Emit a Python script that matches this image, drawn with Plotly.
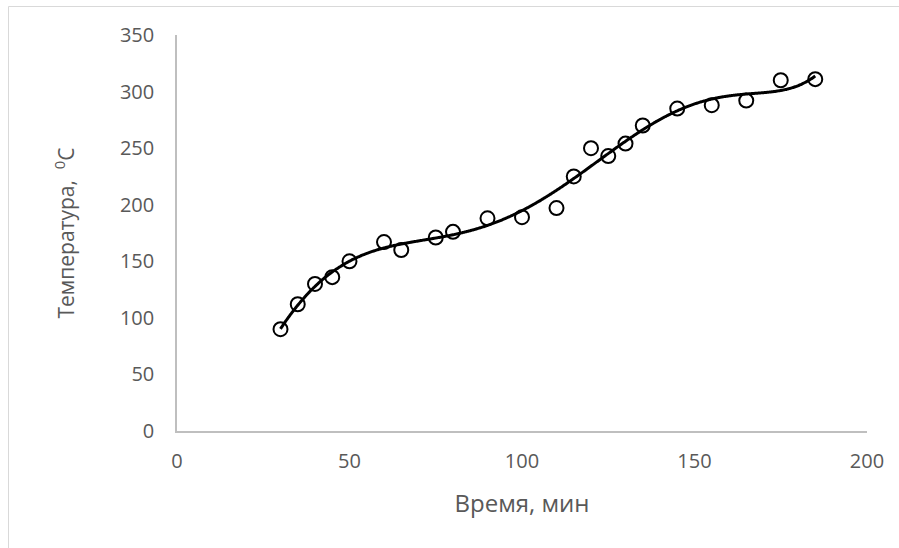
import numpy as np
import plotly.graph_objects as go

time_min = [30, 35, 40, 45, 50, 60, 65, 75, 80, 90, 100, 110, 115, 120, 125, 130, 135, 145, 155, 165, 175, 185]
temp_c = [90, 112, 130, 136, 150, 167, 160, 171, 176, 188, 189, 197, 225, 250, 243, 254, 270, 285, 288, 292, 310, 311]
x_ticks = [0, 50, 100, 150, 200]
y_ticks = [0, 50, 100, 150, 200, 250, 300, 350]
TREND_ORDER = 6

xs = np.array(time_min, dtype=float)
ys = np.array(temp_c, dtype=float)
coef = np.polyfit(xs, ys, TREND_ORDER)
xf = np.linspace(xs.min(), xs.max(), 400)
yf = np.polyval(coef, xf)

fig = go.Figure()
fig.add_trace(go.Scatter(x=xf, y=yf, mode="lines",
                         line=dict(color="black", width=3, shape="spline"),
                         hoverinfo="skip", showlegend=False))
fig.add_trace(go.Scatter(x=time_min, y=temp_c, mode="markers",
                         marker=dict(symbol="circle-open", size=14, color="black",
                                     line=dict(width=2, color="black")),
                         showlegend=False))

W, H = 899, 548
L, R, T, B = 177, 32, 35, 117
pw, ph = W - L - R, H - T - B

def px2paper_x(px):
    return (px - L) / pw

def py2paper_y(py):
    return (H - B - py) / ph

fig.add_shape(type="rect", xref="paper", yref="paper",
              x0=px2paper_x(8.5), x1=px2paper_x(910), y0=py2paper_y(560), y1=py2paper_y(6.5),
              line=dict(color="#d9d9d9", width=1), fillcolor="rgba(0,0,0,0)", layer="below")

font_family = "Open Sans, Noto Sans, sans-serif"
fig.update_layout(
    width=W, height=H,
    margin=dict(l=L, r=R, t=T, b=B),
    paper_bgcolor="white", plot_bgcolor="white",
    font=dict(family=font_family, color="#595959", size=20),
    xaxis=dict(range=[0, 200], tickvals=x_ticks, ticktext=[str(v) for v in x_ticks],
               showgrid=False, zeroline=False, showline=True, linecolor="#bfbfbf", linewidth=1.5,
               ticks="", ticklabelstandoff=11, tickfont=dict(size=20, color="#595959"),
               title=dict(text="Время, мин", font=dict(size=24, color="#595959"), standoff=22)),
    yaxis=dict(range=[0, 350], tickvals=y_ticks, ticktext=[str(v) for v in y_ticks],
               showgrid=False, zeroline=False, showline=True, linecolor="#bfbfbf", linewidth=1.5,
               ticks="", ticklabelstandoff=17, tickfont=dict(size=20, color="#595959"),
               title=dict(text="Температура,  <sup>0</sup>С", font=dict(size=21, color="#595959"), standoff=40)),
)

fig.write_html("out.html")
